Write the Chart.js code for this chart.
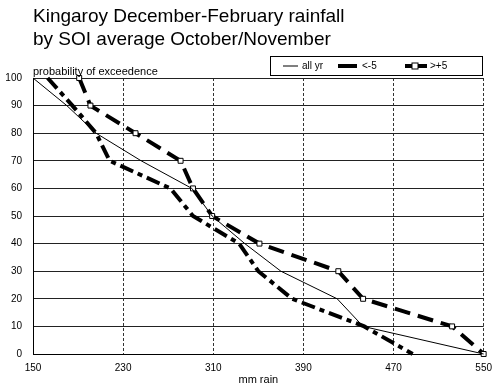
<!DOCTYPE html>
<html>
<head>
<meta charset="utf-8">
<script src="https://cdn.jsdelivr.net/npm/chart.js@4"></script>
<style>
  html, body { margin: 0; padding: 0; background: #fff; }
  #wrap { width: 500px; height: 389px; }
</style>
</head>
<body>
<div id="wrap"><canvas id="chart" width="500" height="389"></canvas></div>
<script>
// probability of exceedence (y) for every point of the three curves
const probs = [100, 90, 80, 70, 60, 50, 40, 30, 20, 10, 0]
// mm rain at each probability
const allYr = [150, 180, 206, 246, 291, 309, 338, 370, 420, 443, 550]
const soiBelow = [163, 185, 206, 218, 272, 292, 333, 350, 380, 444, 487]
const soiAbove = [191, 201, 241, 281, 292, 309, 351, 421, 443, 522, 550]

const xTicks = [150, 230, 310, 390, 470, 550]
const yTicks = [0, 10, 20, 30, 40, 50, 60, 70, 80, 90, 100]

const titleLines = ["Kingaroy December-February rainfall", "by SOI average October/November"]
const legendNames = ["all yr", "<-5", ">+5"]

const FONT = "'Liberation Sans', Arial, Helvetica, sans-serif"

const toPoints = (xs) => xs.map((x, i) => ({x: x, y: probs[i]}))

const extras = {
    id: 'extras',
    afterDraw: (chart) => {
        const ctx = chart.ctx
        const area = chart.chartArea
        ctx.save()
        ctx.fillStyle = '#000'
        ctx.textBaseline = 'alphabetic'
        ctx.textAlign = 'left'
        ctx.font = `19px ${FONT}`
        ctx.fillText(titleLines[0], area.left, 22)
        ctx.fillText(titleLines[1], area.left, 45)

        ctx.font = `11px ${FONT}`
        ctx.fillText("probability of exceedence", area.left, 75)

        // legend box
        ctx.strokeStyle = '#000'
        ctx.lineWidth = 1
        ctx.strokeRect(270.5, 56.5, 212, 19)
        ctx.font = `10px ${FONT}`
        ctx.textBaseline = 'middle'
        const ly = 66
        ctx.beginPath(); ctx.moveTo(283, ly); ctx.lineTo(298, ly); ctx.stroke()
        ctx.fillText(legendNames[0], 302, ly)
        ctx.lineWidth = 4
        ctx.beginPath(); ctx.moveTo(338, ly); ctx.lineTo(357, ly); ctx.stroke()
        ctx.fillText(legendNames[1], 362, ly)
        ctx.beginPath(); ctx.moveTo(405, ly); ctx.lineTo(427, ly); ctx.stroke()
        ctx.lineWidth = 1
        ctx.fillStyle = '#fff'
        ctx.fillRect(412, ly - 3, 6, 6)
        ctx.strokeRect(412, ly - 3, 6, 6)
        ctx.fillStyle = '#000'
        ctx.fillText(legendNames[2], 430, ly)
        ctx.restore()
    }
}

const ctx = document.getElementById('chart').getContext('2d')
new Chart(ctx, {
    type: 'scatter',
    data: {
        datasets: [
            {
                label: legendNames[0],
                data: toPoints(allYr),
                showLine: true,
                borderColor: '#000',
                borderWidth: 1,
                pointRadius: 0
            },
            {
                label: legendNames[1],
                data: toPoints(soiBelow),
                showLine: true,
                borderColor: '#000',
                borderWidth: 4,
                borderDash: [14, 5, 5, 5],
                pointRadius: 0
            },
            {
                label: legendNames[2],
                data: toPoints(soiAbove),
                showLine: true,
                borderColor: '#000',
                borderWidth: 4,
                borderDash: [16, 8],
                pointStyle: 'rect',
                pointRadius: 3.5,
                pointBorderWidth: 1,
                pointBackgroundColor: '#fff',
                pointBorderColor: '#000'
            }
        ]
    },
    plugins: [extras],
    options: {
        responsive: false,
        animation: false,
        clip: false,
        layout: { padding: { top: 78, right: 14, left: 0, bottom: 0 } },
        plugins: {
            legend: { display: false },
            tooltip: { enabled: false },
            title: { display: false }
        },
        scales: {
            x: {
                type: 'linear',
                min: 150,
                max: 550,
                afterFit: (s) => { s.height = 35 },
                afterBuildTicks: (s) => { s.ticks = xTicks.map(v => ({value: v})) },
                grid: { color: '#333', lineWidth: 1, drawTicks: false },
                border: { color: '#000', width: 1, dash: [3, 2] },
                ticks: { color: '#000', padding: 8, font: { family: FONT, size: 10 } },
                title: { display: true, text: 'mm rain', color: '#000', padding: { top: 0, bottom: 2 }, font: { family: FONT, size: 11 } }
            },
            y: {
                type: 'linear',
                min: 0,
                max: 100,
                afterFit: (s) => { s.width = 33 },
                afterBuildTicks: (s) => { s.ticks = yTicks.map(v => ({value: v})) },
                grid: { color: '#222', lineWidth: 1, drawTicks: false },
                border: { color: '#000', width: 1 },
                ticks: { color: '#000', padding: 11, font: { family: FONT, size: 10 } }
            }
        }
    }
})
</script>
</body>
</html>
